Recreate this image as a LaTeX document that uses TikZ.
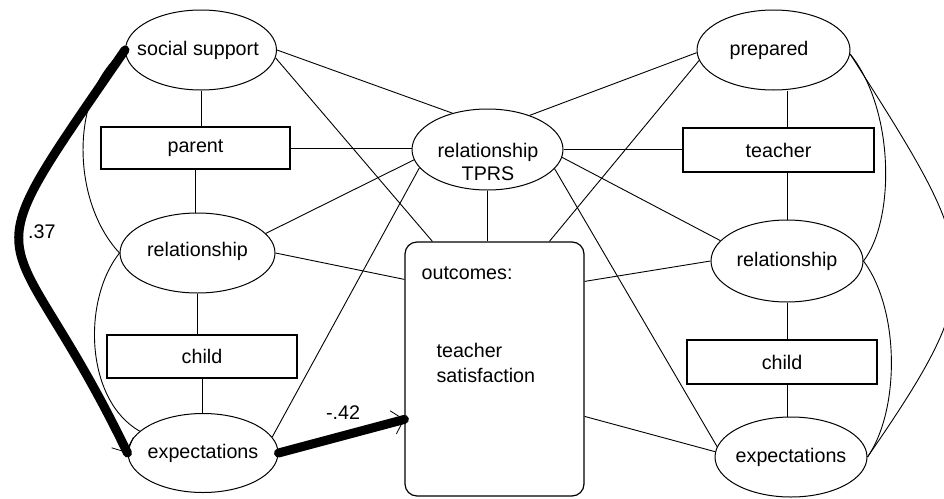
\documentclass[tikz,border=0pt]{standalone}
\usepackage{fontspec}
\setmainfont{Liberation Sans}
\usetikzlibrary{shapes.geometric,arrows.meta,calc}
\begin{document}
\begin{tikzpicture}[x=1pt,y=-1pt,
  every node/.style={font=\fontsize{19.7}{23}\selectfont, inner sep=0pt},
  oval/.style={ellipse, draw, line width=1pt},
  vbox/.style={rectangle, draw, line width=1.2pt},
  link/.style={line width=0.9pt},
  strong/.style={line width=9pt, line cap=round},
  barb/.style={line width=0.8pt, -{Straight Barb[length=11pt,width=24pt]}}]
\useasboundingbox (0,0) rectangle (944,498);
\clip (0,0) rectangle (944,498);

% left column: parent / child measures
\node[oval, minimum width=151pt, minimum height=80pt] (ss) at (201,50) {};
\node (ssT) at (198,50) {social support};
\node[vbox, minimum width=189pt, minimum height=42pt] (par) at (195.5,148) {parent};
\node[oval, minimum width=155pt, minimum height=80pt] (rl) at (197.5,253) {};
\node (rlT) at (197.5,251) {relationship};
\node[vbox, minimum width=190pt, minimum height=43pt] (chl) at (202,356.5) {child};
\node[oval, minimum width=150pt, minimum height=79pt] (exl) at (203,453) {};
\node (exlT) at (203,453) {expectations};

% centre: TPRS and outcome box
\node[oval, minimum width=151pt, minimum height=81pt] (tprs) at (487.5,149.5) {};
\node[align=center] (tprsT) at (488,162) {relationship\\TPRS};
\node[vbox, rounded corners=12pt, minimum width=179pt, minimum height=254pt] (out) at (494.5,369) {};
\node[anchor=base west] (outA) at ($(out.north west)+(17,38)$) {outcomes:};
\node[anchor=base west] (outB) at ($(out.north west)+(32,116)$) {teacher};
\node[anchor=base west] (outC) at ($(out.north west)+(32,141)$) {satisfaction};

% right column: teacher / child measures
\node[oval, minimum width=153pt, minimum height=80pt] (prep) at (773.5,50) {};
\node (prepT) at (769,50) {prepared};
\node[vbox, minimum width=191pt, minimum height=44pt] (tea) at (778.5,150) {teacher};
\node[oval, minimum width=152pt, minimum height=82pt] (rr) at (787,261) {};
\node (rrT) at (787,261) {relationship};
\node[vbox, minimum width=190pt, minimum height=44pt] (chr) at (782,362) {child};
\node[oval, minimum width=152pt, minimum height=80pt] (exr) at (791,457) {};
\node (exrT) at (791,457) {expectations};

% vertical links
\draw[link] (ss.south) -- (ss.south |- par.north);
\draw[link] (par.south) -- (par.south |- rl.north);
\draw[link] (rl.south) -- (rl.south |- chl.north);
\draw[link] (chl.south) -- (chl.south |- exl.north);
\draw[link] (prep.south -| rr.north) -- (tea.north -| rr.north);
\draw[link] (tea.south -| rr.north) -- (rr.north);
\draw[link] (rr.south) -- (chr.north -| rr.south);
\draw[link] (chr.south -| rr.south) -- (exr.north -| rr.south);
\draw[link] (tprs.south) -- (tprs.south |- out.north);

% horizontal links
\draw[link] (par.east) -- (par.east -| tprs.west);
\draw[link] (tprs.east) -- (tprs.east -| tea.west);

% diagonal links
\draw[link] (ss.east) -- (tprs.134);
\draw[link] (ss.-6) -- ($(out.north west)+(28,0)$);
\draw[link] (rl.16) -- (tprs.188);
\draw[link] (rl.east) -- ($(out.north west)+(0,38)$);
\draw[link] (exl.13) -- (tprs.195);
\draw[link] (tprs.39) -- (prep.182);
\draw[link] ($(out.north west)+(145,0)$) -- (prep.188);
\draw[link] (tprs.-6) -- (rr.163);
\draw[link] (tprs.-16) -- (exr.172);
\draw[link] ($(out.north east)+(0,40)$) -- (rr.west);
\draw[link] ($(out.north east)+(0,175)$) -- (exr.176);

% correlation curves
\draw[link] (ss.west) .. controls (70,90) and (70,200) .. (rl.west);
\draw[link] (rl.west) .. controls (82,300) and (85,400) .. (exl.161);
\draw[link] (prep.-3) .. controls (895,110) and (895,220) .. (rr.east);
\draw[link] (rr.east) .. controls (900,310) and (900,410) .. (exr.east);
\draw[link] (prep.-3) .. controls (982,261) and (992,276) .. (exr.east);

% significant paths
\draw[strong] (ss.west) .. controls (-40,290) and (8,205) .. (exl.west);
\draw[barb] (ss.west) .. controls (-40,290) and (8,205) .. (exl.west);
\node[anchor=west] (p37) at (28,232) {.37};
\draw[strong] (exl.east) -- ($(out.north west)+(0,178)$);
\draw[barb] (exl.east) -- ($(out.north west)+(0,178)$);
\node (p42) at (343,413) {-.42};
\end{tikzpicture}
\end{document}
